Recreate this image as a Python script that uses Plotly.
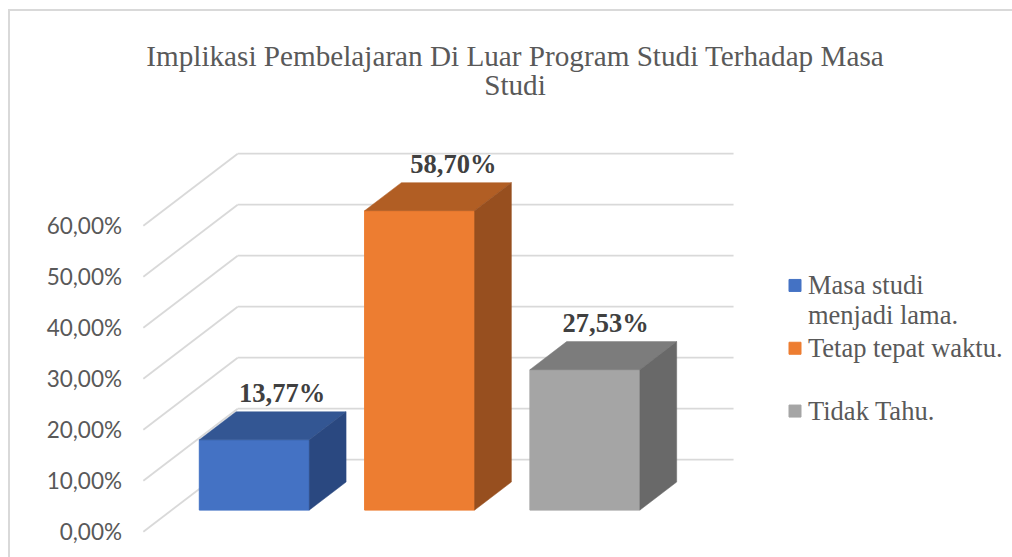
import plotly.graph_objects as go

# ---- data ----
categories = ["Masa studi|menjadi lama.", "Tetap tepat waktu.| ", "Tidak Tahu."]
values = [13.77, 58.70, 27.53]
value_labels = ["13,77%", "58,70%", "27,53%"]
tick_values = [0, 10, 20, 30, 40, 50, 60]
tick_labels = ["0,00%", "10,00%", "20,00%", "30,00%", "40,00%", "50,00%", "60,00%"]
title_lines = ["Implikasi Pembelajaran Di Luar Program Studi Terhadap Masa", "Studi"]

front_colors = ["#4472C4", "#ED7D31", "#A5A5A5"]
top_colors = ["#335693", "#B15E24", "#7C7C7C"]
side_colors = ["#2A4880", "#974F1F", "#696969"]
grid_color = "#D9D9D9"
label_nudge_px = [-9, -3, -16]

# ---- layout in pixels ----
W, H = 1012, 557
L, R, T, B = 125, 740, 140, 537
ppu_x = 165.3
ppu_y = 5.1
zero_px_y = 531.7
cat0_px_x = 254.3
x_range = [(L - cat0_px_x) / ppu_x, (R - cat0_px_x) / ppu_x]
y_range = [(zero_px_y - B) / ppu_y, (zero_px_y - T) / ppu_y]

# oblique projection of the 3-D floor (depth 0 = front, 1 = back wall)
depth_dx = 94.3 / ppu_x
depth_dy = 72 / ppu_y
bar_front, bar_back = 0.30, 0.69
bar_width = 110 / ppu_x


def proj(x, v, d):
    """Category/value/depth to 2-D axis coordinates, relative to the bar front plane."""
    return x + (d - bar_front) * depth_dx, v + d * depth_dy


def sized(lines, size):
    """Join text lines with a glyph size larger than the container's line spacing."""
    return "<br>".join(f'<span style="font-size:{size}px">{t}</span>' for t in lines)


lift = bar_front * depth_dy
fig = go.Figure()

# gridlines under the bars: floor-to-wall diagonal plus the back wall line
shapes = []
for v in tick_values:
    pts = [proj(-0.5, v, 0), proj(-0.5, v, 1), proj(2.5, v, 1)]
    for a, b in zip(pts[:-1], pts[1:]):
        shapes.append(dict(type="line", xref="x", yref="y", x0=a[0], y0=a[1], x1=b[0], y1=b[1],
                           line=dict(color=grid_color, width=1.8), layer="below"))

# bars
for i, (cat, val) in enumerate(zip(categories, values)):
    l, r = i - bar_width / 2, i + bar_width / 2
    db = bar_back
    df = bar_front
    top_face = [proj(l, val, df), proj(r, val, df), proj(r, val, db), proj(l, val, db), proj(l, val, df)]
    side_face = [proj(r, 0, df), proj(r, 0, db), proj(r, val, db), proj(r, val, df), proj(r, 0, df)]
    for face, colr in ((top_face, top_colors[i]), (side_face, side_colors[i])):
        fig.add_trace(go.Scatter(x=[p[0] for p in face], y=[p[1] for p in face], mode="lines",
                                 fill="toself", fillcolor=colr, line=dict(color=colr, width=0.5),
                                 showlegend=False, hoverinfo="skip"))
    fig.add_trace(go.Bar(x=[i], y=[val], base=[lift], width=bar_width,
                         name=sized(cat.split("|"), 26.5),
                         marker=dict(color=front_colors[i], line=dict(width=1, color=front_colors[i]))))

# value labels above the back edge of each bar top
lab = [proj(i + label_nudge_px[i] / ppu_x, v + 0.6, bar_back) for i, v in enumerate(values)]
fig.add_trace(go.Scatter(x=[p[0] for p in lab], y=[p[1] for p in lab], mode="text",
                         text=value_labels, textposition="top center",
                         textfont=dict(family="Liberation Serif", size=26.5, color="#404040",
                                       weight="bold"),
                         showlegend=False, hoverinfo="skip"))

shapes.append(dict(type="rect", xref="paper", yref="paper",
                   x0=(9 - L) / (R - L), x1=(1040 - L) / (R - L),
                   y0=1 - (600 - T) / (B - T), y1=1 - (10 - T) / (B - T),
                   line=dict(color=grid_color, width=2), layer="below"))

fig.update_layout(
    width=W, height=H, autosize=False,
    margin=dict(l=L, r=W - R, t=T, b=H - B, pad=0, autoexpand=False),
    paper_bgcolor="white", plot_bgcolor="rgba(0,0,0,0)",
    barmode="overlay",
    title=dict(text=sized(title_lines, 29.2), x=515 / W, xanchor="center", y=1 - 66 / H, yanchor="top",
               font=dict(family="Liberation Serif", size=22.3, color="#595959")),
    xaxis=dict(range=x_range, visible=False, fixedrange=True),
    yaxis=dict(range=y_range, tickmode="array", tickvals=tick_values, ticktext=tick_labels,
               showgrid=False, zeroline=False, showline=False, ticks="", ticklabelstandoff=2,
               tickfont=dict(family="Lato", size=22.5, color="#595959"),
               fixedrange=True),
    legend=dict(x=(768 - L) / (R - L), xanchor="left", y=1 - (264 - T) / (B - T), yanchor="top",
                font=dict(family="Liberation Serif", size=23, color="#595959"),
                bgcolor="rgba(0,0,0,0)", tracegroupgap=0, traceorder="normal"),
    shapes=shapes,
)

# Align each legend swatch with the first line of its entry and close the gap to the text
post = """
document.body.style.margin='0';
document.documentElement.style.overflow='hidden';
function alignLegend(){
  document.querySelectorAll('.legend .traces').forEach(function(tr){
    var n = tr.querySelectorAll('.legendtext tspan.line').length || 1;
    var p = tr.querySelector('.legendpoints');
    if (p) p.setAttribute('transform', 'translate(7,' + (-(n-1)*29.9/2) + ')');
  });
}
alignLegend();
setTimeout(alignLegend, 0);
"""
fig.write_html("out.html", config=dict(displayModeBar=False), post_script=post)
